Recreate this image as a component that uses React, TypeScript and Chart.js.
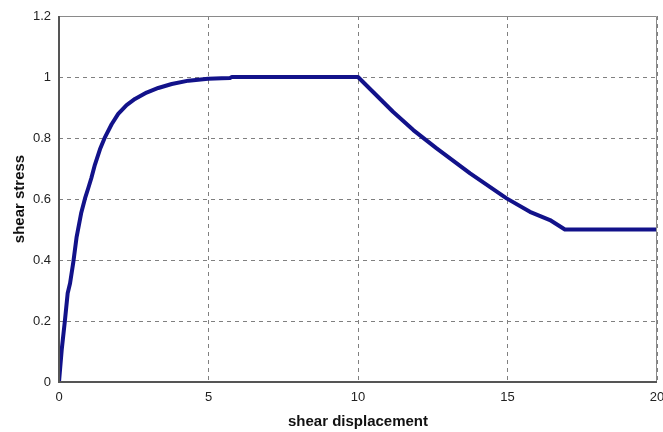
import React, { useEffect, useRef } from "react";
import { Chart, registerables } from "chart.js";

Chart.register(...registerables);

const displacement = [0, 0.09, 0.2, 0.29, 0.37, 0.48, 0.59, 0.74, 0.87, 0.98, 1.08, 1.2, 1.37, 1.54, 1.76, 1.98, 2.26, 2.54, 2.93, 3.32, 3.77, 4.33, 4.99, 5.44, 5.72, 5.78, 10.0, 11.17, 11.85, 12.63, 13.75, 14.97, 15.75, 16.42, 16.92, 20];
const stress = [0, 0.105, 0.203, 0.291, 0.324, 0.394, 0.476, 0.553, 0.602, 0.636, 0.668, 0.712, 0.763, 0.803, 0.845, 0.879, 0.908, 0.928, 0.949, 0.964, 0.977, 0.988, 0.994, 0.996, 0.997, 1.0, 1.0, 0.886, 0.826, 0.766, 0.684, 0.602, 0.558, 0.531, 0.5, 0.5];
const xTitle = "shear displacement";
const yTitle = "shear stress";

export default function App() {
  const ref = useRef<HTMLCanvasElement>(null);
  useEffect(() => {
    if (!ref.current) return;
    const framePlugin = {
      id: "frame",
      afterDatasetsDraw(chart: any) {
        const { ctx, chartArea: a } = chart;
        ctx.save();
        ctx.setLineDash([]);
        ctx.strokeStyle = "#8a8a8a";
        ctx.lineWidth = 1;
        ctx.beginPath();
        ctx.moveTo(a.left, a.top + 0.5);
        ctx.lineTo(a.right - 0.5, a.top + 0.5);
        ctx.lineTo(a.right - 0.5, a.bottom);
        ctx.stroke();
        ctx.strokeStyle = "#555";
        ctx.lineWidth = 2;
        ctx.beginPath();
        ctx.moveTo(a.left, a.top);
        ctx.lineTo(a.left, a.bottom);
        ctx.lineTo(a.right, a.bottom);
        ctx.stroke();
        ctx.restore();
      },
    };
    const font = { family: "Liberation Sans, Arial", size: 13 };
    const titleFont = { family: "Liberation Sans, Arial", size: 15, weight: "bold" };
    const chart = new Chart(ref.current, {
      type: "line",
      data: {
        datasets: [
          {
            data: displacement.map((x, i) => ({ x, y: stress[i] })),
            borderColor: "#12128a",
            borderWidth: 4,
            pointRadius: 0,
            tension: 0,
            borderJoinStyle: "round",
            borderCapStyle: "round",
            fill: false,
          },
        ],
      },
      options: {
        animation: false,
        responsive: false,
        maintainAspectRatio: false,
        layout: { padding: { top: 16, right: 6, left: 0, bottom: 0 } },
        plugins: { legend: { display: false }, tooltip: { enabled: false } },
        scales: {
          x: {
            type: "linear",
            min: 0,
            max: 20,
            ticks: { stepSize: 5, color: "#222", font, padding: 8 },
            grid: { color: "#808080", drawTicks: false, tickLength: 0 },
            border: { display: false, dash: [4, 4] },
            title: { display: true, text: xTitle, color: "#111", font: titleFont, padding: { top: 4, bottom: 1 } },
            afterFit(scale: any) { scale.height = 50; scale.paddingRight = 0; scale.paddingLeft = 0; },
          },
          y: {
            min: 0,
            max: 1.2,
            ticks: { stepSize: 0.2, color: "#222", font, padding: 8, callback: (v: any) => String(Math.round(Number(v) * 10) / 10) },
            grid: { color: "#808080", drawTicks: false, tickLength: 0 },
            border: { display: false, dash: [4, 4] },
            title: { display: true, text: yTitle, color: "#111", font: titleFont, padding: { top: 11, bottom: 4 } },
            afterFit(scale: any) { scale.width = 59; scale.paddingTop = 0; scale.paddingBottom = 0; },
          },
        },
      } as any,
      plugins: [framePlugin],
    });
    return () => chart.destroy();
  }, []);
  return (
    <div style={{ position: "absolute", left: 0, top: 0, width: 663, height: 432 }}>
      <canvas ref={ref} width={663} height={432} style={{ width: 663, height: 432 }} />
    </div>
  );
}
